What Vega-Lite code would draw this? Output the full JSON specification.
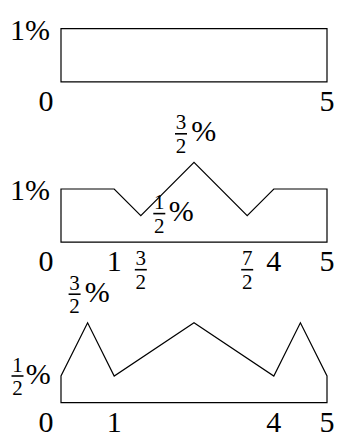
{
  "$schema": "https://vega.github.io/schema/vega-lite/v6.json",
  "autosize": {"type": "none"},
  "padding": {"left": 61, "top": 2, "right": 276, "bottom": 430},
  "background": "white",
  "bounds": "flush",
  "spacing": {"row": 80.4},
  "config": {"view": {"stroke": null}, "text": {"font": "Liberation Serif"}},
  "data": {
    "values": [
      {"panel": 1, "kind": "vertex", "i": 0, "x": 0, "y": 0},
      {"panel": 1, "kind": "vertex", "i": 1, "x": 0, "y": 1},
      {"panel": 1, "kind": "vertex", "i": 2, "x": 5, "y": 1},
      {"panel": 1, "kind": "vertex", "i": 3, "x": 5, "y": 0},
      {"panel": 2, "kind": "vertex", "i": 0, "x": 0, "y": 0},
      {"panel": 2, "kind": "vertex", "i": 1, "x": 0, "y": 1},
      {"panel": 2, "kind": "vertex", "i": 2, "x": 1, "y": 1},
      {"panel": 2, "kind": "vertex", "i": 3, "x": 1.5, "y": 0.5},
      {"panel": 2, "kind": "vertex", "i": 4, "x": 2.5, "y": 1.5},
      {"panel": 2, "kind": "vertex", "i": 5, "x": 3.5, "y": 0.5},
      {"panel": 2, "kind": "vertex", "i": 6, "x": 4, "y": 1},
      {"panel": 2, "kind": "vertex", "i": 7, "x": 5, "y": 1},
      {"panel": 2, "kind": "vertex", "i": 8, "x": 5, "y": 0},
      {"panel": 3, "kind": "vertex", "i": 0, "x": 0, "y": 0},
      {"panel": 3, "kind": "vertex", "i": 1, "x": 0, "y": 0.5},
      {"panel": 3, "kind": "vertex", "i": 2, "x": 0.5, "y": 1.5},
      {"panel": 3, "kind": "vertex", "i": 3, "x": 1, "y": 0.5},
      {"panel": 3, "kind": "vertex", "i": 4, "x": 2.5, "y": 1.5},
      {"panel": 3, "kind": "vertex", "i": 5, "x": 4, "y": 0.5},
      {"panel": 3, "kind": "vertex", "i": 6, "x": 4.5, "y": 1.5},
      {"panel": 3, "kind": "vertex", "i": 7, "x": 5, "y": 0.5},
      {"panel": 3, "kind": "vertex", "i": 8, "x": 5, "y": 0},
      {"panel": 1, "kind": "tick", "x": 0, "y": 0, "label": "0"},
      {"panel": 1, "kind": "tick", "x": 5, "y": 0, "label": "5"},
      {"panel": 2, "kind": "tick", "x": 0, "y": 0, "label": "0"},
      {"panel": 2, "kind": "tick", "x": 1, "y": 0, "label": "1"},
      {"panel": 2, "kind": "tick", "x": 4, "y": 0, "label": "4"},
      {"panel": 2, "kind": "tick", "x": 5, "y": 0, "label": "5"},
      {"panel": 3, "kind": "tick", "x": 0, "y": 0, "label": "0"},
      {"panel": 3, "kind": "tick", "x": 1, "y": 0, "label": "1"},
      {"panel": 3, "kind": "tick", "x": 4, "y": 0, "label": "4"},
      {"panel": 3, "kind": "tick", "x": 5, "y": 0, "label": "5"},
      {"panel": 2, "kind": "fractick", "x": 1.5, "y": 0, "num": "3", "den": "2"},
      {"panel": 2, "kind": "fractick", "x": 3.5, "y": 0, "num": "7", "den": "2"},
      {"panel": 1, "kind": "pct", "x": 0, "y": 1, "label": "1%"},
      {"panel": 2, "kind": "pct", "x": 0, "y": 1, "label": "1%"},
      {"panel": 2, "kind": "peak", "x": 2.5, "y": 1.5, "num": "3", "den": "2"},
      {"panel": 3, "kind": "peak", "x": 0.5, "y": 1.5, "num": "3", "den": "2"},
      {"panel": 2, "kind": "dip", "x": 1.5, "y": 0.5, "num": "1", "den": "2"},
      {"panel": 3, "kind": "start", "x": 0, "y": 0.5, "num": "1", "den": "2"}
    ]
  },
  "facet": {"row": {"field": "panel", "type": "ordinal", "header": null}},
  "spec": {
    "width": 266,
    "height": 79.8,
    "encoding": {
      "x": {"field": "x", "type": "quantitative", "scale": {"domain": [0, 5], "nice": false, "zero": false}, "axis": null},
      "y": {"field": "y", "type": "quantitative", "scale": {"domain": [0, 1.5], "nice": false, "zero": false}, "axis": null}
    },
    "layer": [
      {
        "transform": [{"filter": "datum.kind === 'vertex'"}],
        "mark": {"type": "line", "interpolate": "linear-closed", "stroke": "black", "strokeWidth": 1.2, "strokeJoin": "miter"},
        "encoding": {"order": {"field": "i", "type": "quantitative"}}
      },
      {
        "transform": [{"filter": "datum.kind === 'tick' && datum.x !== 0"}],
        "mark": {"type": "text", "fontSize": 30, "baseline": "alphabetic", "align": "center", "dy": 29, "color": "black"},
        "encoding": {"text": {"field": "label"}}
      },
      {
        "transform": [{"filter": "datum.kind === 'tick' && datum.x === 0"}],
        "mark": {"type": "text", "fontSize": 30, "baseline": "alphabetic", "align": "center", "dx": -15, "dy": 29, "color": "black"},
        "encoding": {"text": {"field": "label"}}
      },
      {
        "transform": [{"filter": "datum.kind === 'pct'"}],
        "mark": {"type": "text", "fontSize": 30, "baseline": "alphabetic", "align": "right", "dx": -11, "dy": 11, "color": "black"},
        "encoding": {"text": {"field": "label"}}
      },
      {
        "transform": [{"filter": "datum.kind === 'fractick'"}],
        "mark": {"type": "text", "fontSize": 21, "baseline": "alphabetic", "align": "center", "dy": 23, "color": "black"},
        "encoding": {"text": {"field": "num"}}
      },
      {
        "transform": [{"filter": "datum.kind === 'fractick'"}],
        "mark": {"type": "text", "fontSize": 21, "baseline": "alphabetic", "align": "center", "dy": 46.5, "color": "black"},
        "encoding": {"text": {"field": "den"}}
      },
      {
        "transform": [{"filter": "datum.kind === 'fractick'"}],
        "mark": {"type": "rule", "color": "black", "strokeWidth": 1.6, "xOffset": -6, "x2Offset": 6, "yOffset": 27.5},
        "encoding": {"x2": {"field": "x"}}
      },
      {
        "transform": [{"filter": "datum.kind === 'peak'"}],
        "mark": {"type": "text", "fontSize": 21, "baseline": "alphabetic", "align": "center", "dx": -13, "dy": -33.1, "color": "black"},
        "encoding": {"text": {"field": "num"}}
      },
      {
        "transform": [{"filter": "datum.kind === 'peak'"}],
        "mark": {"type": "text", "fontSize": 21, "baseline": "alphabetic", "align": "center", "dx": -13, "dy": -9.6, "color": "black"},
        "encoding": {"text": {"field": "den"}}
      },
      {
        "transform": [{"filter": "datum.kind === 'peak'"}],
        "mark": {"type": "rule", "color": "black", "strokeWidth": 1.6, "xOffset": -19, "x2Offset": -7, "yOffset": -28.6},
        "encoding": {"x2": {"field": "x"}}
      },
      {
        "transform": [{"filter": "datum.kind === 'peak'"}],
        "mark": {"type": "text", "fontSize": 30, "baseline": "alphabetic", "align": "center", "dx": 9.7, "dy": -21.1, "color": "black"},
        "encoding": {"text": {"value": "%"}}
      },
      {
        "transform": [{"filter": "datum.kind === 'dip'"}],
        "mark": {"type": "text", "fontSize": 21, "baseline": "alphabetic", "align": "center", "dx": 18.5, "dy": -6.5, "color": "black"},
        "encoding": {"text": {"field": "num"}}
      },
      {
        "transform": [{"filter": "datum.kind === 'dip'"}],
        "mark": {"type": "text", "fontSize": 21, "baseline": "alphabetic", "align": "center", "dx": 18.5, "dy": 17, "color": "black"},
        "encoding": {"text": {"field": "den"}}
      },
      {
        "transform": [{"filter": "datum.kind === 'dip'"}],
        "mark": {"type": "rule", "color": "black", "strokeWidth": 1.6, "xOffset": 12.5, "x2Offset": 24.5, "yOffset": -2},
        "encoding": {"x2": {"field": "x"}}
      },
      {
        "transform": [{"filter": "datum.kind === 'dip'"}],
        "mark": {"type": "text", "fontSize": 30, "baseline": "alphabetic", "align": "center", "dx": 40.5, "dy": 5.5, "color": "black"},
        "encoding": {"text": {"value": "%"}}
      },
      {
        "transform": [{"filter": "datum.kind === 'start'"}],
        "mark": {"type": "text", "fontSize": 21, "baseline": "alphabetic", "align": "center", "dx": -43.5, "dy": -4.5, "color": "black"},
        "encoding": {"text": {"field": "num"}}
      },
      {
        "transform": [{"filter": "datum.kind === 'start'"}],
        "mark": {"type": "text", "fontSize": 21, "baseline": "alphabetic", "align": "center", "dx": -43.5, "dy": 19, "color": "black"},
        "encoding": {"text": {"field": "den"}}
      },
      {
        "transform": [{"filter": "datum.kind === 'start'"}],
        "mark": {"type": "rule", "color": "black", "strokeWidth": 1.6, "xOffset": -49.5, "x2Offset": -37.5, "yOffset": 0},
        "encoding": {"x2": {"field": "x"}}
      },
      {
        "transform": [{"filter": "datum.kind === 'start'"}],
        "mark": {"type": "text", "fontSize": 30, "baseline": "alphabetic", "align": "center", "dx": -22.7, "dy": 7.5, "color": "black"},
        "encoding": {"text": {"value": "%"}}
      }
    ]
  }
}
